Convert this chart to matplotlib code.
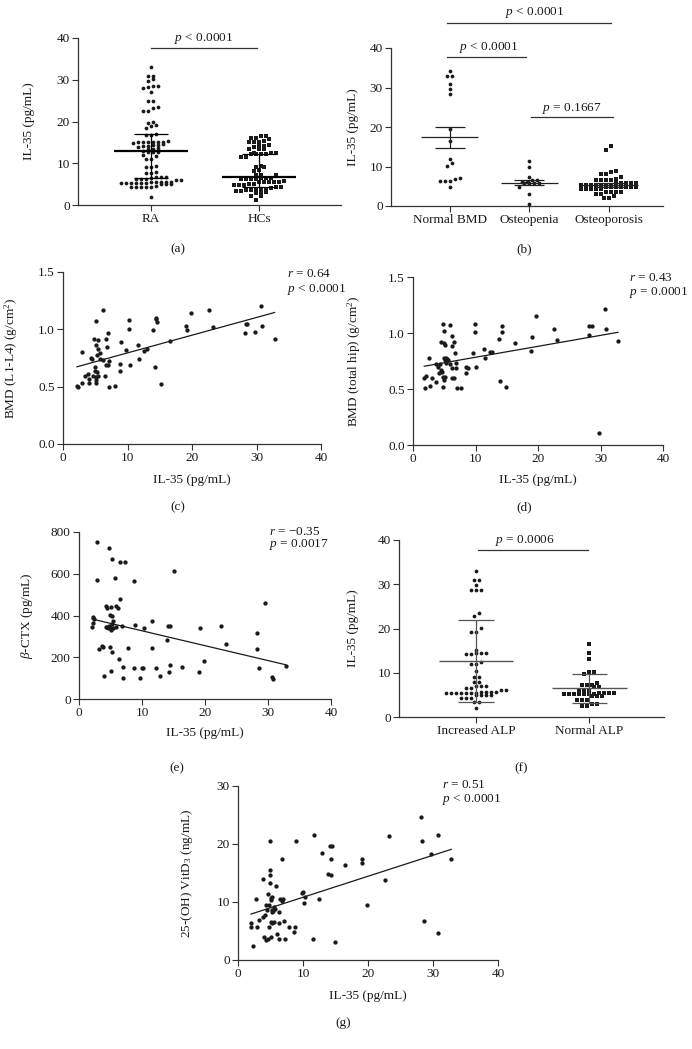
import numpy as np
import matplotlib.pyplot as plt

plt.rcParams['font.family'] = 'Liberation Serif'
plt.rcParams['mathtext.fontset'] = 'custom'
plt.rcParams['mathtext.rm'] = 'Liberation Serif'
plt.rcParams['mathtext.it'] = 'Liberation Serif:italic'
plt.rcParams['font.size'] = 8

# ---- data ----
# (a) IL-35 in RA vs healthy controls
a_ra = [33.0, 31.0, 30.8, 30.1, 29.8, 28.6, 28.5, 28.2, 28.0, 27.0, 25.0, 24.9,
        23.4, 23.2, 22.6, 22.5, 19.8, 19.7, 19.2, 19.0, 18.4, 16.9, 16.8, 16.7,
        15.3, 15.2, 15.2, 15.1, 15.1, 15.0, 15.0, 14.9, 14.5, 14.4, 14.3, 14.2,
        14.1, 13.9, 13.6, 13.5, 13.4, 12.9, 12.8, 12.7, 12.6, 11.9, 11.7, 11.0,
        10.9, 9.3, 9.2, 9.1, 7.8, 7.7, 7.6, 6.8, 6.7, 6.6, 6.5, 6.3, 6.2, 6.2,
        6.1, 6.0, 5.5, 5.5, 5.4, 5.4, 5.4, 5.3, 5.3, 5.3, 5.2, 5.2, 5.2, 5.1,
        5.1, 5.0, 4.5, 4.4, 4.4, 4.3, 4.3, 4.2, 2.0]
a_hc = [16.6, 16.5, 16.1, 16.0, 15.9, 15.3, 15.2, 15.1, 15.0, 14.3, 14.2, 14.1,
        14.0, 13.5, 13.4, 13.3, 12.5, 12.4, 12.4, 12.3, 12.3, 12.2, 12.2, 11.6,
        11.5, 9.3, 9.2, 9.1, 8.3, 8.2, 7.3, 7.2, 7.1, 6.5, 6.4, 6.4, 6.3, 6.3,
        6.2, 6.2, 5.7, 5.6, 5.6, 5.5, 5.5, 5.4, 5.0, 5.0, 4.9, 4.9, 4.8, 4.3,
        4.2, 4.1, 3.7, 3.6, 3.6, 3.5, 3.5, 3.4, 3.4, 3.0, 3.0, 2.9, 2.2, 2.1, 1.2]
a_groups = ['RA', 'HCs']
a_center = [12.9, 6.8]
a_hi = [17.0, 12.3]
a_lo = [6.5, 4.4]

# (b) IL-35 by BMD status
b_normal = [34.1, 33.0, 33.0, 30.9, 29.7, 28.4, 19.4, 16.5, 11.9, 10.9, 10.2,
            7.1, 6.8, 6.4, 6.4, 6.4, 4.7]
b_penia = [11.4, 9.9, 7.4, 6.5, 6.5, 6.1, 6.1, 5.7, 5.7, 5.7, 5.7, 4.8, 3.0, 0.6]
b_porosis = [15.2, 14.2, 8.9, 8.6, 8.0, 8.0, 7.4, 6.9, 6.5, 6.5, 6.5, 6.5,
             5.9, 5.9, 5.9, 5.9, 5.9, 5.4, 5.4, 5.4, 5.4, 5.4, 5.4, 5.4,
             4.8, 4.8, 4.8, 4.8, 4.8, 4.8, 4.8, 4.2, 4.2, 4.2, 4.2, 4.2,
             3.6, 3.6, 3.6, 3.6, 3.1, 3.1, 2.5, 2.0, 2.0]
b_groups = ['Normal BMD', 'Osteopenia', 'Osteoporosis']
b_center = [17.4, 5.9, 5.4]
b_hi = [20.1, 6.5, 5.8]
b_lo = [14.7, 5.3, 4.9]

# (c) IL-35 vs BMD (L1-L4)
c_x = [2.17, 2.4, 2.95, 3.0, 3.36, 3.9, 4.0, 4.1, 4.4, 4.5, 4.66, 4.8, 4.9, 5.0,
       5.07, 5.1, 5.07, 5.17, 5.17, 5.2, 5.3, 5.4, 5.43, 5.5, 5.7, 5.8, 6.16,
       6.2, 6.5, 6.6, 6.6, 6.8, 7.0, 6.9, 7.1, 7.2, 8.0, 8.8, 8.9, 9.05, 9.8,
       10.2, 10.2, 10.45, 11.7, 11.8, 12.5, 13.0, 14.0, 14.2, 14.4, 14.4, 14.5,
       15.2, 16.55, 19.1, 19.2, 19.9, 22.7, 23.3, 28.2, 28.3, 28.55, 29.7, 30.7,
       30.8, 32.8]
c_y = [0.51, 0.50, 0.80, 0.53, 0.59, 0.61, 0.57, 0.53, 0.75, 0.74, 0.59, 0.92,
       0.67, 0.64, 0.58, 0.555, 0.53, 1.07, 0.86, 0.78, 0.63, 0.59, 0.91, 0.83,
       0.79, 0.74, 0.73, 1.17, 0.59, 0.92, 0.69, 0.85, 0.97, 0.69, 0.72, 0.50,
       0.51, 0.64, 0.70, 0.89, 0.82, 1.08, 1.00, 0.69, 0.86, 0.74, 0.81, 0.83,
       0.99, 0.67, 1.10, 1.09, 1.06, 0.52, 0.90, 1.03, 0.99, 1.14, 1.17, 1.02,
       0.97, 1.05, 1.05, 0.98, 1.20, 1.03, 0.92]

# (d) IL-35 vs BMD (total hip)
d_x = [1.97, 1.8, 2.13, 2.67, 2.56, 3.04, 3.6, 3.7, 4.0, 4.16, 4.27, 4.4, 4.48,
       4.64, 4.75, 4.8, 4.85, 4.9, 4.96, 5.0, 5.07, 5.07, 4.96, 5.17, 5.2, 5.33,
       5.5, 5.6, 5.87, 5.92, 6.2, 6.3, 6.3, 6.3, 6.5, 6.5, 6.67, 6.8, 6.8, 7.1,
       7.7, 8.4, 8.5, 8.8, 9.6, 9.9, 9.9, 10.1, 11.4, 11.5, 12.3, 12.7, 13.7,
       13.97, 14.2, 14.2, 14.9, 16.3, 18.9, 19.0, 19.7, 22.6, 23.1, 28.1, 28.2,
       28.6, 29.7, 30.7, 30.8, 32.8]
d_y = [0.505, 0.595, 0.615, 0.526, 0.78, 0.595, 0.72, 0.565, 0.70, 0.64, 0.72,
       0.67, 0.92, 0.655, 0.61, 0.52, 1.08, 1.02, 0.78, 0.91, 0.76, 0.61, 0.58,
       0.89, 0.73, 0.78, 0.765, 0.76, 1.07, 0.72, 0.595, 0.97, 0.88, 0.69, 0.92,
       0.595, 0.825, 0.73, 0.69, 0.51, 0.51, 0.70, 0.645, 0.69, 0.82, 1.08, 1.01,
       0.70, 0.86, 0.78, 0.83, 0.83, 0.95, 0.57, 1.06, 1.01, 0.52, 0.91, 0.84,
       0.96, 1.15, 1.04, 0.94, 0.98, 1.06, 1.06, 0.11, 1.21, 1.04, 0.93]

# (e) IL-35 vs beta-CTX
e_x = [2.8, 2.86, 2.2, 2.2, 2.4, 2.07, 3.2, 3.7, 3.87, 3.9, 4.24, 4.3, 4.45, 4.5,
       4.6, 4.7, 4.8, 4.9, 4.9, 5.0, 5.03, 5.1, 5.1, 5.2, 5.2, 5.3, 5.3, 5.35,
       5.46, 5.67, 5.8, 5.95, 6.2, 6.36, 6.46, 6.46, 6.9, 7.0, 7.05, 7.26, 7.84,
       8.7, 8.75, 8.9, 9.75, 10.0, 10.17, 10.3, 11.55, 11.65, 12.3, 12.9, 13.9,
       14.1, 14.3, 14.4, 14.5, 15.0, 16.4, 19.0, 19.2, 19.8, 22.6, 23.3, 28.2,
       28.2, 28.5, 29.6, 30.7, 30.8, 32.8]
e_y = [752, 568, 394, 366, 382, 347, 240, 256, 251, 108, 347, 445, 436, 347,
       342, 351, 725, 247, 402, 342, 442, 331, 132, 227, 358, 671, 398, 339,
       374, 579, 344, 447, 437, 192, 655, 480, 350, 100, 151, 654, 242, 148,
       566, 353, 100, 148, 148, 339, 242, 372, 148, 111, 282, 350, 127, 162,
       350, 611, 151, 129, 339, 180, 348, 262, 318, 240, 148, 458, 103, 97, 159]

# (f) IL-35 by ALP status
f_inc = [33.1, 31.0, 31.0, 29.9, 28.7, 28.7, 28.7, 23.5, 22.9, 20.1, 19.3, 19.3,
         15.2, 14.5, 14.5, 14.5, 14.2, 14.2, 12.5, 11.9, 11.9, 10.4, 9.1, 9.1,
         7.95, 7.95, 7.0, 7.0, 7.0, 6.6, 6.6, 6.1, 6.1, 5.7, 5.7, 5.7, 5.7,
         5.4, 5.4, 5.4, 5.4, 5.4, 5.4, 5.4, 4.9, 4.9, 4.9, 4.9, 4.4, 4.4, 4.4,
         3.4, 3.4, 2.1]
f_norm = [16.5, 14.5, 13.0, 10.2, 10.2, 9.8, 7.6, 7.2, 7.2, 7.2, 6.7, 6.7, 6.2,
          6.2, 6.2, 5.5, 5.5, 5.5, 5.5, 5.1, 5.1, 5.1, 5.1, 5.1, 5.1, 5.1, 4.7,
          4.7, 4.7, 3.9, 3.9, 3.9, 3.0, 3.0, 2.4, 2.4]
f_groups = ['Increased ALP', 'Normal ALP']
f_center = [12.65, 6.5]
f_hi = [22.0, 9.8]
f_lo = [3.5, 3.1]

# (g) IL-35 vs 25-(OH) VitD3
g_x = [2.0, 2.05, 2.3, 2.8, 2.9, 3.3, 3.85, 3.85, 4.0, 4.2, 4.3, 4.35, 4.45, 4.55,
       4.66, 4.76, 4.8, 4.86, 4.9, 4.96, 4.96, 5.0, 5.06, 5.1, 5.1, 5.16, 5.2,
       5.27, 5.3, 5.4, 5.47, 5.6, 5.7, 5.9, 6.0, 6.24, 6.3, 6.35, 6.5, 6.75,
       6.75, 6.9, 7.0, 7.3, 7.8, 8.65, 8.7, 8.95, 9.9, 10.0, 10.1, 10.3, 11.6,
       11.7, 12.4, 12.9, 13.9, 14.2, 14.45, 14.3, 14.3, 14.99, 16.4, 19.0, 19.1,
       19.8, 22.6, 23.3, 28.2, 28.3, 28.6, 29.7, 30.7, 30.8, 32.8]
g_y = [5.75, 6.3, 2.5, 10.6, 5.75, 6.9, 13.9, 7.5, 3.9, 7.75, 9.4, 3.45, 8.6,
       11.4, 3.7, 5.75, 9.4, 20.6, 15.6, 14.65, 13.3, 6.5, 10.75, 10.3, 4.0, 8.7,
       8.3, 6.4, 10.9, 8.5, 9.2, 6.6, 8.8, 12.75, 4.5, 6.4, 8.2, 3.6, 10.6, 17.4,
       10.2, 10.6, 6.7, 3.7, 5.75, 4.9, 5.75, 20.6, 11.5, 11.8, 9.8, 10.8, 3.6,
       21.6, 10.5, 18.5, 14.8, 19.65, 19.65, 17.4, 14.65, 3.05, 16.3, 17.5, 16.7,
       9.4, 13.8, 21.4, 24.6, 20.6, 6.8, 18.3, 4.6, 21.6, 17.4]

W, H = 692, 1049
fig = plt.figure(figsize=(W / 100, H / 100), dpi=100)
INK = '#1a1a1a'
FS = 9.5


def box(l, r, t, b):
    return [l / W, 1 - b / H, (r - l) / W, (b - t) / H]


def style(ax):
    for s in ['top', 'right']:
        ax.spines[s].set_visible(False)
    for s in ['left', 'bottom']:
        ax.spines[s].set_color('#333333')
        ax.spines[s].set_linewidth(0.9)
    ax.tick_params(direction='out', length=4, width=0.8, color='#333333',
                   labelsize=FS, labelcolor=INK, pad=2)


def swarm(ax, xc, vals, d=5.0):
    # group values into rows (by pixel height) and spread each row sideways
    vals = np.sort(np.asarray(vals, dtype=float))
    tr = ax.transData
    px = tr.transform(np.column_stack([np.full(len(vals), xc), vals]))
    x0 = px[0, 0]
    rows = []
    for i, y in enumerate(px[:, 1]):
        if rows and y - px[rows[-1][0], 1] < d * 0.8:
            rows[-1].append(i)
        else:
            rows.append([i])
    xpx = np.zeros(len(vals))
    for r in rows:
        n = len(r)
        for k, i in enumerate(r):
            xpx[i] = x0 + (k - (n - 1) / 2) * d
    xs = tr.inverted().transform(np.column_stack([xpx, px[:, 1]]))[:, 0]
    return xs, vals


def dotplot(ax, groups, datas, center, hi, lo, markers, xlim, mean_w, cap_w, mean_lw, line_c):
    ax.set_xlim(*xlim)
    ax.set_ylim(0, 40)
    ax.set_yticks([0, 10, 20, 30, 40])
    ax.set_xticks(range(len(groups)))
    ax.set_xticklabels(groups)
    for i, vals in enumerate(datas):
        xs, ys = swarm(ax, i, vals)
        ax.plot(xs, ys, linestyle='none', marker=markers[i], ms=2.7 if markers[i] == 'o' else 2.5,
                mfc=INK, mec=INK, mew=0, zorder=3)
        ax.hlines(center[i], i - mean_w, i + mean_w, color=line_c, lw=mean_lw, zorder=4)
        ax.vlines(i, lo[i], hi[i], color=line_c, lw=0.9, zorder=4)
        ax.hlines([lo[i], hi[i]], i - cap_w, i + cap_w, color=line_c, lw=0.9, zorder=4)


def bracket(ax, x1, x2, y, tpos, label):
    ax.plot([x1, x2], [y, y], color='#333333', lw=0.9, clip_on=False)
    ax.text(tpos[0], tpos[1], label, ha='center', va='center',
            fontsize=FS, color=INK, clip_on=False)


def scatter(ax, x, y, ylim, yticks, yfmt, rtxt, ptxt, tx, ry, py):
    ax.plot(x, y, linestyle='none', marker='o', ms=3.1, mfc=INK, mec=INK, mew=0, zorder=3, clip_on=False)
    coef = np.polyfit(x, y, 1)
    xx = np.array([min(x), max(x)])
    ax.plot(xx, np.polyval(coef, xx), color=INK, lw=0.9)
    ax.set_xlim(0, 40)
    ax.set_xticks([0, 10, 20, 30, 40])
    ax.set_ylim(*ylim)
    ax.set_yticks(yticks)
    ax.set_yticklabels([yfmt.format(v) for v in yticks])
    ax.text(tx, ry, rtxt, fontsize=FS, color=INK, va='center', ha='left', clip_on=False)
    ax.text(tx, py, ptxt, fontsize=FS, color=INK, va='center', ha='left', clip_on=False)
    ax.set_xlabel('IL-35 (pg/mL)', fontsize=FS, color=INK)


# (a)
ax = fig.add_axes(box(78, 341, 38, 205))
style(ax)
dotplot(ax, a_groups, [a_ra, a_hc], a_center, a_hi, a_lo, ['o', 's'], (-0.676, 1.76),
        0.34, 0.16, 1.6, 'black')
bracket(ax, 0.0, 0.98, 37.7, (0.49, 40.0), '$p$ < 0.0001')
ax.set_ylabel('IL-35 (pg/mL)', fontsize=FS, color=INK)
ax.yaxis.set_label_coords(-0.163, 0.5)

# (b)
ax = fig.add_axes(box(391, 663, 48, 206))
style(ax)
dotplot(ax, b_groups, [b_normal, b_penia, b_porosis], b_center, b_hi, b_lo, ['o', 'o', 's'],
        (-0.74, 2.68), 0.36, 0.19, 0.9, '#222222')
bracket(ax, -0.03, 2.03, 46.3, (1.06, 49.0), '$p$ < 0.0001')
bracket(ax, -0.03, 0.96, 37.7, (0.49, 40.2), '$p$ < 0.0001')
bracket(ax, 1.02, 2.05, 22.5, (1.53, 24.8), '$p$ = 0.1667')
ax.set_ylabel('IL-35 (pg/mL)', fontsize=FS, color=INK)
ax.yaxis.set_label_coords(-0.118, 0.5)

# (c)
ax = fig.add_axes(box(63, 321, 272, 444))
style(ax)
scatter(ax, c_x, c_y, (0, 1.5), [0, 0.5, 1.0, 1.5], '{:.1f}', '$r$ = 0.64', '$p$ < 0.0001',
        34.7, 1.48, 1.35)
ax.set_ylabel('BMD (L1-L4) (g/cm$^2$)', fontsize=FS, color=INK)
ax.yaxis.set_label_coords(-0.167, 0.5)
ax.xaxis.set_label_coords(0.5, -0.175)

# (d)
ax = fig.add_axes(box(413, 663, 277, 445))
style(ax)
scatter(ax, d_x, d_y, (0, 1.5), [0, 0.5, 1.0, 1.5], '{:.1f}', '$r$ = 0.43', '$p$ = 0.0001',
        34.6, 1.49, 1.36)
ax.set_ylabel('BMD (total hip) (g/cm$^2$)', fontsize=FS, color=INK)
ax.yaxis.set_label_coords(-0.2, 0.5)
ax.xaxis.set_label_coords(0.5, -0.17)

# (e)
ax = fig.add_axes(box(79, 331, 532, 699))
style(ax)
scatter(ax, e_x, e_y, (0, 800), [0, 200, 400, 600, 800], '{:d}', '$r$ = \u22120.35', '$p$ = 0.0017',
        30.2, 800, 738)
ax.set_ylabel(r'$\beta$-CTX (pg/mL)', fontsize=FS, color=INK)
ax.yaxis.set_label_coords(-0.175, 0.5)
ax.xaxis.set_label_coords(0.5, -0.17)

# (f)
ax = fig.add_axes(box(399, 664, 540, 717))
style(ax)
dotplot(ax, f_groups, [f_inc, f_norm], f_center, f_hi, f_lo, ['o', 's'], (-0.68, 1.66),
        0.33, 0.155, 1.0, '#555555')
bracket(ax, 0.02, 0.99, 37.7, (0.43, 39.9), '$p$ = 0.0006')
ax.set_ylabel('IL-35 (pg/mL)', fontsize=FS, color=INK)
ax.yaxis.set_label_coords(-0.15, 0.5)

# (g)
ax = fig.add_axes(box(238, 498, 786, 960))
style(ax)
scatter(ax, g_x, g_y, (0, 30), [0, 10, 20, 30], '{:d}', '$r$ = 0.51', '$p$ < 0.0001',
        31.4, 30.2, 27.6)
ax.set_ylabel('25-(OH) VitD$_3$ (ng/mL)', fontsize=FS, color=INK)
ax.yaxis.set_label_coords(-0.165, 0.5)
ax.xaxis.set_label_coords(0.5, -0.17)

# panel letters
for lab, x, y in [('(a)', 178, 249), ('(b)', 524, 249), ('(c)', 178, 507), ('(d)', 524, 507),
                  ('(e)', 177, 768), ('(f)', 521, 768), ('(g)', 343, 1023)]:
    fig.text(x / W, 1 - y / H, lab, ha='center', va='center', fontsize=FS, color=INK)

fig.savefig('out.png', dpi=100)
